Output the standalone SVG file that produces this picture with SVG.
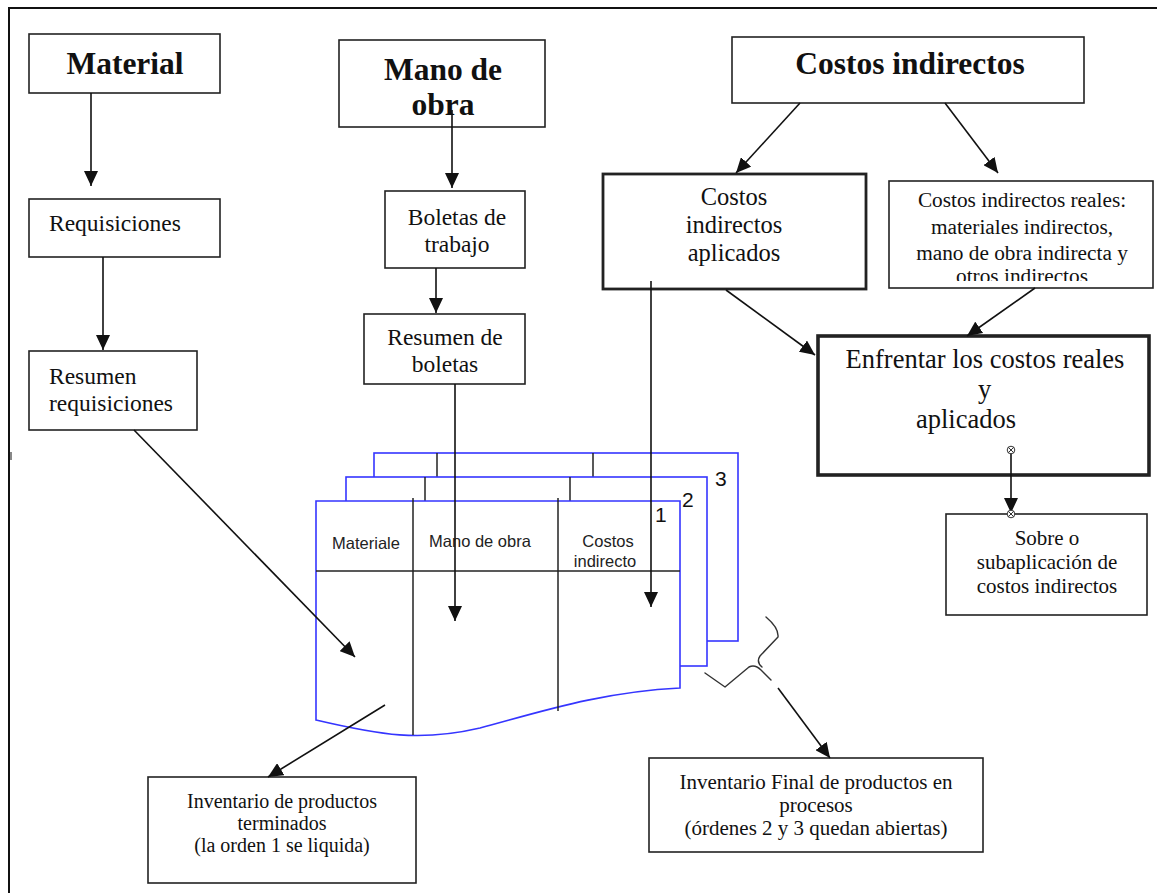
<svg xmlns="http://www.w3.org/2000/svg" width="1157" height="893" viewBox="0 0 1157 893">
  <style>
    .box { fill: #fff; stroke: #222; stroke-width: 1.6; }
    .thick { stroke-width: 2.8; }
    .heavy { stroke-width: 3.6; }
    .t { font-family: "Liberation Serif", "Times New Roman", serif; fill: #111; }
    .b { font-weight: bold; font-size: 31.5px; }
    .r { font-size: 23.5px; }
    .s { font-size: 21px; }
    .c { text-anchor: middle; }
    .conn { stroke: #111; stroke-width: 1.6; fill: none; }
    .page { fill: #fff; stroke: #3535ff; stroke-width: 1.6; }
    .rule { stroke: #222; stroke-width: 1.5; }
    .hdr { font-family: "Liberation Sans", Arial, sans-serif; font-size: 16.5px; fill: #222; }
    .num { font-family: "Liberation Sans", Arial, sans-serif; font-size: 21px; fill: #111; }
    .brace { stroke: #333; stroke-width: 1.4; fill: none; stroke-linecap: round; stroke-linejoin: round; }
  </style>
  <defs>
    <marker id="ah" markerUnits="userSpaceOnUse" markerWidth="16" markerHeight="14" refX="15" refY="7" orient="auto">
      <path d="M0,0 L15,7 L0,14 z" fill="#111"/>
    </marker>
    <clipPath id="realesClip">
      <rect x="889" y="181" width="263" height="100"/>
    </clipPath>
  </defs>

  <!-- page frame -->
  <path d="M9,893 V8 H1157" fill="none" stroke="#111" stroke-width="2"/>
  <rect x="10" y="452" width="2" height="8" fill="#888"/>

  <!-- job order sheets (3 stacked) -->
  <g id="orden-3">
    <rect class="page" x="374" y="453" width="364" height="188"/>
    <line class="rule" x1="437" y1="453" x2="437" y2="477"/>
    <line class="rule" x1="593" y1="453" x2="593" y2="477"/>
    <text class="num" x="715" y="486">3</text>
  </g>
  <g id="orden-2">
    <rect class="page" x="346" y="477" width="361" height="189"/>
    <line class="rule" x1="425" y1="477" x2="425" y2="501"/>
    <line class="rule" x1="570" y1="477" x2="570" y2="501"/>
    <text class="num" x="682" y="507">2</text>
  </g>
  <g id="orden-1">
    <path class="page" d="M316,501 H680 V688 C600,692 540,712 480,728 C420,742 380,735 316,720 Z"/>
    <line class="rule" x1="316" y1="571" x2="680" y2="571"/>
    <line class="rule" x1="413" y1="498" x2="413" y2="735"/>
    <line class="rule" x1="558" y1="498" x2="558" y2="711"/>
    <text class="hdr" x="366" y="549" text-anchor="middle">Materiale</text>
    <text class="hdr" x="480" y="547" text-anchor="middle">Mano de obra</text>
    <text class="hdr" x="608" y="547" text-anchor="middle">Costos</text>
    <text class="hdr" x="605" y="567" text-anchor="middle">indirecto</text>
    <text class="num" x="655" y="522">1</text>
  </g>

  <!-- nodes -->
  <g id="material">
    <rect class="box" x="29" y="34" width="191" height="59"/>
    <text class="t b c" x="125" y="74" font-size="32">Material</text>
  </g>
  <g id="requisiciones">
    <rect class="box" x="29" y="199" width="191" height="58"/>
    <text class="t r" x="49" y="231">Requisiciones</text>
  </g>
  <g id="resumen-requisiciones">
    <rect class="box" x="29" y="351" width="168" height="79"/>
    <text class="t r" x="49" y="384">Resumen</text>
    <text class="t r" x="49" y="411">requisiciones</text>
  </g>
  <g id="mano-de-obra">
    <rect class="box" x="339" y="40" width="206" height="87"/>
    <text class="t b c" x="443" y="80">Mano de</text>
    <text class="t b c" x="443" y="115">obra</text>
  </g>
  <g id="boletas-trabajo">
    <rect class="box" x="385" y="191" width="140" height="77"/>
    <text class="t r c" x="457" y="225">Boletas de</text>
    <text class="t r c" x="457" y="252">trabajo</text>
  </g>
  <g id="resumen-boletas">
    <rect class="box" x="364" y="314" width="161" height="70"/>
    <text class="t r c" x="445" y="345">Resumen de</text>
    <text class="t r c" x="445" y="372">boletas</text>
  </g>
  <g id="costos-indirectos">
    <rect class="box" x="732" y="37" width="352" height="66"/>
    <text class="t b c" x="910" y="74">Costos indirectos</text>
  </g>
  <g id="costos-aplicados">
    <rect class="box thick" x="603" y="174" width="263" height="115"/>
    <text class="t c" font-size="24.5" x="734" y="205">Costos</text>
    <text class="t c" font-size="24.5" x="734" y="233">indirectos</text>
    <text class="t c" font-size="24.5" x="734" y="261">aplicados</text>
  </g>
  <g id="costos-reales">
    <rect class="box" x="889" y="181" width="264" height="107"/>
    <g clip-path="url(#realesClip)">
      <text class="t c" font-size="21.3" x="1022" y="207">Costos indirectos reales:</text>
      <text class="t c" font-size="21.3" x="1022" y="234">materiales indirectos,</text>
      <text class="t c" font-size="21.3" x="1022" y="260">mano de obra indirecta y</text>
      <text class="t c" font-size="21.3" x="1022" y="283">otros indirectos</text>
    </g>
  </g>
  <g id="enfrentar">
    <rect class="box heavy" x="818" y="336" width="331" height="139"/>
    <text class="t c" font-size="26.5" x="985" y="368">Enfrentar los costos reales</text>
    <text class="t" font-size="26.5" x="978" y="398">y</text>
    <text class="t" font-size="26.5" x="916" y="428">aplicados</text>
  </g>
  <g id="sobre-subaplicacion">
    <rect class="box" x="946" y="514" width="201" height="101"/>
    <text class="t s c" x="1047" y="545">Sobre o</text>
    <text class="t s c" x="1047" y="569">subaplicación de</text>
    <text class="t s c" x="1047" y="593">costos indirectos</text>
  </g>
  <g id="inventario-terminados">
    <rect class="box" x="148" y="777" width="268" height="106"/>
    <text class="t c" font-size="20" x="282" y="808">Inventario de productos</text>
    <text class="t c" font-size="20" x="282" y="830">terminados</text>
    <text class="t c" font-size="20" x="282" y="852">(la orden 1 se liquida)</text>
  </g>
  <g id="inventario-final">
    <rect class="box" x="649" y="758" width="334" height="94"/>
    <text class="t s c" x="816" y="789">Inventario Final de productos en</text>
    <text class="t s c" x="816" y="812">procesos</text>
    <text class="t s c" x="816" y="835">(órdenes 2 y 3 quedan abiertas)</text>
  </g>

  <!-- connectors -->
  <g id="connectors">
    <line class="conn" x1="91" y1="93" x2="91" y2="186" marker-end="url(#ah)"/>
    <line class="conn" x1="103" y1="257" x2="103" y2="350" marker-end="url(#ah)"/>
    <line class="conn" x1="134" y1="430" x2="355" y2="657" marker-end="url(#ah)"/>
    <line class="conn" x1="452" y1="110" x2="452" y2="188" marker-end="url(#ah)"/>
    <line class="conn" x1="436" y1="268" x2="436" y2="313" marker-end="url(#ah)"/>
    <line class="conn" x1="455" y1="384" x2="455" y2="621" marker-end="url(#ah)"/>
    <line class="conn" x1="800" y1="103" x2="736" y2="173" marker-end="url(#ah)"/>
    <line class="conn" x1="945" y1="103" x2="998" y2="173" marker-end="url(#ah)"/>
    <line class="conn" x1="651" y1="281" x2="651" y2="607" marker-end="url(#ah)"/>
    <line class="conn" x1="726" y1="290" x2="815" y2="355" marker-end="url(#ah)"/>
    <line class="conn" x1="1035" y1="288" x2="967" y2="336" marker-end="url(#ah)"/>
    <line class="conn" x1="1011" y1="450" x2="1011" y2="513" marker-end="url(#ah)"/>
    <line class="conn" x1="385" y1="705" x2="268" y2="777" marker-end="url(#ah)"/>
    <line class="conn" x1="778" y1="688" x2="830" y2="758" marker-end="url(#ah)"/>
    <!-- brace under the open orders -->
    <path class="brace" d="M766,617 Q779,628 778,637 L760,656 Q756,662 762,667"/>
    <path class="brace" d="M705,673 L725,687 L749,667 Q755,664 761,670 L771,680"/>
    <!-- junction marks -->
    <g fill="#fff" stroke="#333" stroke-width="1">
      <circle cx="1011" cy="450" r="3.8"/>
      <path d="M1008.3,447.3 L1013.7,452.7 M1013.7,447.3 L1008.3,452.7"/>
      <circle cx="1011" cy="514" r="3.8"/>
      <path d="M1008.3,511.3 L1013.7,516.7 M1013.7,511.3 L1008.3,516.7"/>
    </g>
  </g>
</svg>
